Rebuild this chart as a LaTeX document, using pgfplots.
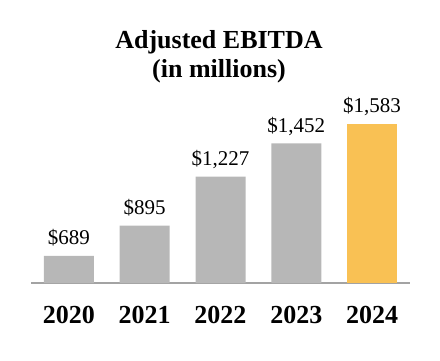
\documentclass[border=0pt]{standalone}
\usepackage{pgfplots}
\pgfplotsset{compat=1.18}
\usepackage{fontspec}
\setmainfont{Liberation Serif}
\definecolor{bargray}{HTML}{B7B7B7}
\definecolor{bargold}{HTML}{F9C154}
\definecolor{axisgray}{HTML}{A3A3A3}
\begin{document}
\begin{tikzpicture}[x=1pt,y=1pt]
\useasboundingbox (0,0) rectangle (440,360);
\node[anchor=base, font=\fontsize{26}{26}\selectfont\bfseries] at (219,312) {Adjusted EBITDA};
\node[anchor=base, font=\fontsize{26}{26}\selectfont\bfseries] at (219,283) {(in millions)};
\begin{axis}[
  at={(31pt,77pt)}, anchor=south west,
  scale only axis, width=379pt, height=162pt,
  xmin=-0.5, xmax=4.5, ymin=506, ymax=1603,
  ybar, bar width=50pt, bar shift=0pt,
  axis x line=bottom, axis y line=none,
  x axis line style={-, draw=axisgray, line width=1.6pt},
  xtick={0,1,2,3,4}, xticklabels={2020,2021,2022,2023,2024},
  major tick length=0pt,
  xticklabel style={font=\fontsize{26}{26}\selectfont\bfseries, anchor=base, yshift=-40pt},
  nodes near coords={\$\pgfmathprintnumber[fixed, assume math mode=true, 1000 sep={,}]{\pgfplotspointmeta}},
  nodes near coords style={font=\fontsize{21}{21}\selectfont, anchor=base, yshift=11pt, inner sep=0pt, text=black},
  point meta=explicit,
  clip=false,
]
\addplot[fill=bargray, draw=none] coordinates {(0,689) [689] (1,895) [895] (2,1227) [1227] (3,1452) [1452]};
\addplot[fill=bargold, draw=none] coordinates {(4,1583) [1583]};
\end{axis}
\end{tikzpicture}
\end{document}
